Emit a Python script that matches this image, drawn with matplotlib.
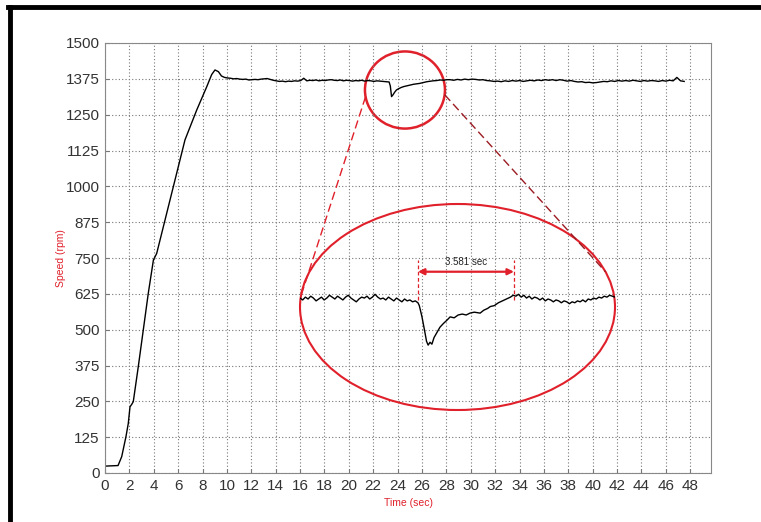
import numpy as np
import matplotlib
matplotlib.use('Agg')
import matplotlib.pyplot as plt
from matplotlib.patches import Ellipse
from matplotlib.lines import Line2D

plt.rcParams['font.family'] = ['Liberation Sans Narrow', 'DejaVu Sans Condensed', 'Liberation Sans', 'DejaVu Sans']

# main speed trace: start-up ramp
rise_t = [0.0, 0.5, 1.07, 1.37, 1.72, 1.91, 2.05, 2.2, 2.32, 2.73, 3.14, 3.55, 3.97,
          4.24, 5.06, 5.74, 6.56, 7.52, 8.34, 8.75, 9.02, 9.3, 9.55]
rise_v = [24, 25, 26, 57, 127, 173, 231, 240, 249, 371, 499, 627, 743,
          766, 906, 1022, 1162, 1266, 1347, 1390, 1406, 1400, 1385]

# steady running before the load step (9.8 s .. 23.3 s)
steady1_v = [1380, 1378, 1377, 1375, 1376, 1374, 1373, 1374, 1371, 1372, 1373, 1372,
             1374, 1375, 1376, 1373, 1370, 1368, 1366, 1367, 1365, 1367, 1366, 1368,
             1367, 1369, 1377, 1368, 1370, 1369, 1371, 1368, 1370, 1369, 1371, 1372,
             1370, 1369, 1371, 1368, 1370, 1369, 1367, 1369, 1368, 1370, 1367, 1369,
             1368, 1366, 1368, 1367, 1366, 1365, 1364]

# load step dip and recovery
dip_t = [23.4, 23.5, 23.6, 23.75, 23.9, 24.1, 24.3, 24.5, 24.7, 25.0, 25.3, 25.6,
         25.8, 26.1, 26.4, 26.7, 26.9, 27.2, 27.5, 27.8, 28.0]
dip_v = [1350, 1313, 1318, 1328, 1336, 1341, 1345, 1348, 1350, 1353, 1356, 1358,
         1359, 1362, 1365, 1367, 1368, 1369, 1371, 1370, 1372]

# steady running after recovery (28.3 s .. 47.5 s)
steady2_v = [1372, 1370, 1373, 1371, 1374, 1372, 1374, 1373, 1371, 1372, 1369, 1368,
             1366, 1367, 1365, 1368, 1366, 1369, 1367, 1369, 1366, 1368, 1370, 1368,
             1371, 1369, 1372, 1370, 1372, 1369, 1372, 1370, 1367, 1369, 1366, 1364,
             1365, 1362, 1363, 1361, 1362, 1364, 1366, 1365, 1368, 1366, 1369, 1367,
             1369, 1367, 1370, 1368, 1366, 1369, 1367, 1369, 1368, 1366, 1369, 1367,
             1370, 1368, 1380, 1368, 1366]

# zoomed view of the dip
zoomA_v = [1370, 1368, 1371, 1369, 1372, 1370, 1367, 1369, 1371, 1368, 1370, 1373,
           1371, 1369, 1372, 1370, 1368, 1371, 1373, 1370, 1368, 1366, 1369, 1371,
           1370, 1372, 1369, 1371, 1374, 1371, 1369, 1370, 1368, 1371, 1369, 1367,
           1370, 1368, 1366, 1369, 1367, 1368, 1366, 1367, 1365]
zoomdip_t = [23.45, 23.55, 23.65, 23.72, 23.78, 23.85, 23.92, 24.0, 24.1, 24.22, 24.35,
             24.5, 24.6, 24.75, 24.9, 25.05, 25.2, 25.34, 25.5, 25.72, 25.85, 26.0,
             26.1, 26.25, 26.4, 26.55, 26.7, 26.85, 26.95]
zoomdip_v = [1362, 1350, 1335, 1324, 1320, 1323, 1321, 1328, 1333, 1339, 1343,
             1347, 1350, 1349, 1352, 1353, 1352, 1354, 1355, 1354, 1357, 1359,
             1361, 1362, 1365, 1367, 1369, 1371, 1373]
zoomC_v = [1372, 1374, 1371, 1373, 1370, 1372, 1369, 1371, 1370, 1368, 1370, 1367,
           1369, 1368, 1366, 1368, 1367, 1365, 1367, 1366, 1364, 1366, 1365, 1367,
           1366, 1368, 1366, 1369, 1368, 1370, 1369, 1371, 1370, 1372, 1371, 1373,
           1372, 1371]

recovery_start = 23.4
recovery_end = 26.981

x_ticks = list(range(0, 49, 2))
y_ticks = [0, 125, 250, 375, 500, 625, 750, 875, 1000, 1125, 1250, 1375, 1500]

main_t = np.concatenate([rise_t, np.linspace(9.8, 23.3, len(steady1_v)), dip_t,
                         np.linspace(28.3, 47.5, len(steady2_v))])
main_v = np.concatenate([rise_v, steady1_v, dip_v, steady2_v])

zoom_t = np.concatenate([np.linspace(19.0, 23.4, len(zoomA_v)), zoomdip_t,
                         np.linspace(27.05, 30.75, len(zoomC_v))])
zoom_v = np.concatenate([zoomA_v, zoomdip_v, zoomC_v])

red = '#e0202a'
label_font = ['Liberation Sans', 'DejaVu Sans']

fig = plt.figure(figsize=(7.61, 5.22), dpi=100)
ax = fig.add_axes([105/761, 1-473/522, 606/761, 430/522])

ax.plot(main_t, main_v, color='black', lw=1.0)
ax.set_xlim(0, 49.7)
ax.set_ylim(0, 1500)
ax.set_xticks(x_ticks)
ax.set_yticks(y_ticks)
ax.grid(True, color='#777777', linestyle=(0, (1, 2)), lw=0.8)
ax.tick_params(direction='in', length=3, color='#777777', labelsize=11,
               labelcolor='#333333', pad=4)
for s in ax.spines.values():
    s.set_color('#888888')
ax.set_xlabel('Time (sec)', color=red, fontsize=7.5, family=label_font)
ax.set_ylabel('Speed (rpm)', color=red, fontsize=7.5, family=label_font)
ax.xaxis.set_label_coords(0.5, -0.057)
ax.yaxis.set_label_coords(-0.064, 0.5)

# circle marking the dip on the main trace
cx, cy, cw, ch = 24.6, 1336, 6.56, 269
ax.add_patch(Ellipse((cx, cy), cw, ch, fill=False, edgecolor=red, lw=1.8))

# magnified view
ins = fig.add_axes([300/761, 1-410/522, 315/761, 206/522])
ins.patch.set_alpha(0)
ins.axis('off')
ins.set_xlim(19.0, 30.75)
ins.set_ylim(1251, 1470)
ins.plot(zoom_t, zoom_v, color='black', lw=1.0)
ins.add_patch(Ellipse((0.5, 0.5), 1, 1, transform=ins.transAxes, fill=False,
                      edgecolor=red, lw=1.5, clip_on=False))
for xv in [recovery_start, recovery_end]:
    ins.plot([xv, xv], [1368, 1410], color=red, lw=0.9, linestyle=(0, (3, 2)))
ins.annotate('', xy=(recovery_end, 1398), xytext=(recovery_start, 1398),
             arrowprops=dict(arrowstyle='<|-|>', color=red, lw=1.6,
                             mutation_scale=9, shrinkA=0, shrinkB=0))
ins.text((recovery_start + recovery_end) / 2, 1403, '%.3f sec' % (recovery_end - recovery_start),
         ha='center', va='bottom', fontsize=7, color='#222222', family=label_font)

# dashed connectors from the circle to the magnified view
to_fig = fig.transFigure.inverted()
for a_main, a_ins, col in [(190, 174, red), (-7, 20, '#9b1b22')]:
    pm = (cx + cw / 2 * np.cos(np.radians(a_main)), cy + ch / 2 * np.sin(np.radians(a_main)))
    pi = (0.5 + 0.5 * np.cos(np.radians(a_ins)), 0.5 + 0.5 * np.sin(np.radians(a_ins)))
    fa = to_fig.transform(ax.transData.transform(pm))
    fb = to_fig.transform(ins.transAxes.transform(pi))
    fig.add_artist(Line2D([fa[0], fb[0]], [fa[1], fb[1]], color=col, lw=1.0,
                          linestyle=(0, (6, 3)), transform=fig.transFigure))

# outer frame of the picture
fig.add_artist(Line2D([9.5/761, 9.5/761], [0, 1-7/522], color='black', lw=3.5,
                      transform=fig.transFigure))
fig.add_artist(Line2D([8/761, 1], [1-7/522, 1-7/522], color='black', lw=3.5,
                      transform=fig.transFigure))

fig.savefig('out.png', dpi=100)
